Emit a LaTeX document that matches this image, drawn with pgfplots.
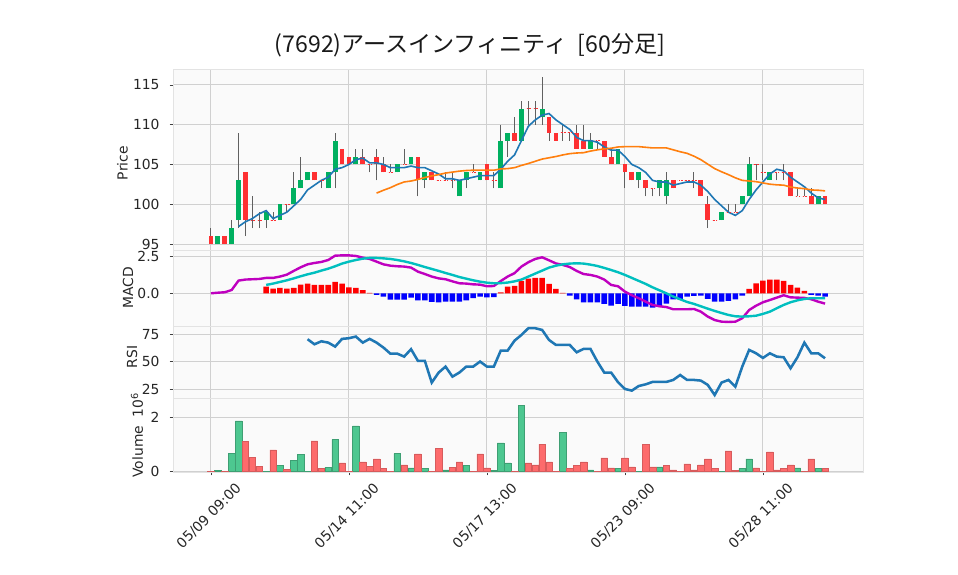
\documentclass[border=0pt]{standalone}
\usepackage{fontspec}
\setmainfont{DejaVu Sans}
\newfontfamily\cjk{Noto Sans CJK JP}
\usepackage{pgfplots}
\usepackage{pgfplotstable}
\pgfplotsset{compat=1.18}

\definecolor{bg}{HTML}{FAFAFA}
\definecolor{gridc}{HTML}{D0D0D0}
\definecolor{upc}{HTML}{00B060}
\definecolor{dnc}{HTML}{FE3032}
\definecolor{wickc}{HTML}{606060}
\definecolor{vup}{HTML}{4DC790}
\definecolor{vdn}{HTML}{FD6B6C}
\definecolor{ma5}{HTML}{1F77B4}
\definecolor{ma25}{HTML}{FF7F0E}
\definecolor{macdc}{HTML}{BF00BF}
\definecolor{sigc}{HTML}{00BFBF}

% candle wicks: k low high
\pgfplotstableread{
k L H
0 95 97
1 95 96
2 95 96
3 95 98
4 97 109
5 96 104
6 97 101
7 97 99
8 97 99
9 98 99
10 98 100
11 99 100
12 100 104
13 102 106
14 103 104
15 103 104
16 102 103
17 102 104
18 102 109
19 105 107
20 105 106
21 105 107
22 105 107
23 104 105
24 103 107
25 104 106
26 104 105
27 104 105
28 105 107
29 105 106
30 101 106
31 102 104
32 103 104
33 103 103
34 103 104
35 102 104
36 101 103
37 102 104
38 104 105
39 103 104
40 103 105
41 102 104
42 102 110
43 106 109
44 108 111
45 108 113
46 110 113
47 110 113
48 110 116
49 108 111
50 108 109
51 108 110
52 108 109
53 107 110
54 107 110
55 107 109
56 107 108
57 106 108
58 105 107
59 105 107
60 102 105
61 103 104
62 102 104
63 101 103
64 101 102
65 101 103
66 100 104
67 102 103
68 103 103
69 103 103
70 102 104
71 101 103
72 97 101
73 98 98
74 98 99
75 99 100
76 99 100
77 100 101
78 101 106
79 103 105
80 103 105
81 103 104
82 103 104
83 103 105
84 101 104
85 101 102
86 101 102
87 100 102
88 100 101
89 100 101
}\wickT

% rising candles: k open close
\pgfplotstableread{
k lo hi
1 95 96
3 95 97
4 98 103
8 98 99
10 98 100
12 100 102
13 102 103
14 103 104
17 102 104
18 104 108
21 105 106
27 104 105
29 105 106
31 103 104
36 101 103
37 103 104
39 103 104
42 102 108
43 108 109
45 108 112
48 111 112
55 107 108
59 105 107
62 103 104
65 102 103
66 101 103
74 98 99
77 100 101
78 101 105
81 103 104
88 100 101
}\upT

% falling candles: k close open
\pgfplotstableread{
k lo hi
0 95 96
2 95 96
5 98 104
15 103 104
19 105 107
20 105 106
22 105 106
24 105 106
25 104 105
30 103 106
32 103 104
40 103 105
44 108 109
49 109 111
50 108 109
53 107 109
54 107 108
57 106 108
58 105 106
60 104 105
61 103 104
63 102 103
67 102 103
71 101 103
72 98 100
84 101 104
87 100 101
89 100 101
}\dnT

% open = close
\pgfplotstableread{
k p
6 98
7 98
9 98
11 100
16 103
23 105
26 104
28 105
33 103
34 103
35 103
38 104
41 103
46 112
47 112
51 109
52 109
56 108
64 102
68 103
69 103
70 103
73 98
75 99
76 99
79 105
80 104
82 104
83 104
85 101
86 101
}\dojiT

\pgfplotstableread{
k v
4 97.2
5 97.8
6 98.2
7 98.8
8 99.2
9 98.2
10 98.6
11 99.0
12 99.8
13 100.6
14 101.8
15 102.4
16 103.0
17 103.4
18 104.4
19 104.6
20 105.0
21 105.6
22 105.8
23 105.2
24 105.2
25 105.0
26 104.6
27 104.6
28 104.6
29 104.8
30 104.6
31 104.6
32 104.2
33 103.8
34 103.2
35 103.2
36 103.0
37 103.2
38 103.4
39 103.6
40 103.6
41 103.6
42 104.4
43 105.4
44 106.2
45 108.0
46 109.8
47 110.6
48 111.2
49 111.4
50 110.6
51 110.0
52 109.4
53 108.4
54 108.0
55 108.0
56 107.8
57 107.2
58 106.8
59 106.8
60 106.0
61 105.0
62 104.6
63 104.0
64 103.0
65 102.8
66 102.8
67 102.4
68 102.6
69 102.8
70 102.8
71 102.4
72 101.6
73 100.6
74 99.8
75 99.0
76 98.6
77 99.2
78 100.6
79 101.8
80 102.8
81 103.8
82 104.4
83 104.2
84 103.4
85 102.8
86 102.2
87 101.4
88 100.8
89 100.6
}\maA

\pgfplotstableread{
k v
24 101.40
25 101.76
26 102.08
27 102.48
28 102.80
29 102.92
30 103.12
31 103.36
32 103.56
33 103.72
34 103.92
35 104.04
36 104.16
37 104.24
38 104.28
39 104.28
40 104.28
41 104.28
42 104.44
43 104.48
44 104.60
45 104.88
46 105.12
47 105.40
48 105.68
49 105.84
50 106.00
51 106.20
52 106.36
53 106.44
54 106.48
55 106.68
56 106.84
57 106.96
58 107.04
59 107.20
60 107.24
61 107.24
62 107.24
63 107.16
64 107.08
65 107.08
66 107.08
67 106.84
68 106.60
69 106.40
70 106.04
71 105.60
72 105.04
73 104.48
74 104.08
75 103.72
76 103.32
77 103.00
78 102.92
79 102.84
80 102.68
81 102.52
82 102.44
83 102.40
84 102.16
85 102.04
86 101.96
87 101.80
88 101.76
89 101.68
}\maB

\pgfplotstableread{
k m
0 0.00
1 0.04
2 0.07
3 0.22
4 0.85
5 0.92
6 0.94
7 0.96
8 1.03
9 1.03
10 1.12
11 1.25
12 1.50
13 1.74
14 1.94
15 2.03
16 2.10
17 2.23
18 2.52
19 2.54
20 2.54
21 2.50
22 2.39
23 2.30
24 2.12
25 1.94
26 1.85
27 1.81
28 1.79
29 1.72
30 1.45
31 1.29
32 1.12
33 1.00
34 0.94
35 0.80
36 0.67
37 0.65
38 0.60
39 0.58
40 0.47
41 0.49
42 0.82
43 1.12
44 1.35
45 1.79
46 2.08
47 2.30
48 2.41
49 2.21
50 2.00
51 1.90
52 1.76
53 1.50
54 1.29
55 1.23
56 1.12
57 0.92
58 0.56
59 0.47
60 0.11
61 -0.13
62 -0.33
63 -0.56
64 -0.78
65 -0.87
66 -0.92
67 -1.07
68 -1.07
69 -1.07
70 -1.05
71 -1.23
72 -1.56
73 -1.79
74 -1.90
75 -1.92
76 -1.90
77 -1.67
78 -1.12
79 -0.83
80 -0.60
81 -0.45
82 -0.29
83 -0.13
84 -0.27
85 -0.29
86 -0.31
87 -0.40
88 -0.56
89 -0.69
}\macdT

\pgfplotstableread{
k s h
8 0.56 0.45
9 0.65 0.31
10 0.76 0.36
11 0.87 0.31
12 1.00 0.36
13 1.14 0.58
14 1.27 0.65
15 1.38 0.56
16 1.52 0.56
17 1.65 0.56
18 1.81 0.76
19 1.99 0.65
20 2.12 0.40
21 2.23 0.36
22 2.32 0.22
23 2.37 0.02
24 2.37 -0.11
25 2.34 -0.22
26 2.30 -0.42
27 2.23 -0.42
28 2.14 -0.42
29 2.03 -0.29
30 1.90 -0.47
31 1.76 -0.47
32 1.63 -0.58
33 1.50 -0.60
34 1.36 -0.56
35 1.23 -0.56
36 1.09 -0.56
37 0.98 -0.47
38 0.87 -0.33
39 0.78 -0.22
40 0.71 -0.27
41 0.67 -0.25
42 0.68 0.07
43 0.72 0.45
44 0.80 0.50
45 0.92 0.83
46 1.12 0.98
47 1.32 1.03
48 1.52 1.03
49 1.72 0.63
50 1.85 0.29
51 1.94 0.02
52 1.99 -0.16
53 2.01 -0.40
54 1.99 -0.60
55 1.92 -0.60
56 1.83 -0.60
57 1.70 -0.71
58 1.56 -0.83
59 1.41 -0.71
60 1.23 -0.85
61 1.03 -0.89
62 0.83 -0.89
63 0.63 -0.89
64 0.40 -0.96
65 0.20 -0.85
66 0.00 -0.69
67 -0.22 -0.40
68 -0.40 -0.40
69 -0.58 -0.22
70 -0.71 -0.18
71 -0.87 -0.16
72 -1.03 -0.38
73 -1.18 -0.56
74 -1.32 -0.56
75 -1.45 -0.51
76 -1.54 -0.40
77 -1.56 -0.16
78 -1.54 0.29
79 -1.50 0.67
80 -1.38 0.85
81 -1.23 0.92
82 -1.00 0.92
83 -0.78 0.83
84 -0.60 0.56
85 -0.47 0.38
86 -0.38 0.16
87 -0.33 -0.11
88 -0.33 -0.16
89 -0.33 -0.22
}\sigT

\pgfplotstableread{
k r
14 70.5
15 65.9
16 68.6
17 67.4
18 63.8
19 70.8
20 71.4
21 72.9
22 67.4
23 70.8
24 67.4
25 62.9
26 57.4
27 57.4
28 54.7
29 61.4
30 50.8
31 50.8
32 31.1
33 40.2
34 45.6
35 36.5
36 40.2
37 45.6
38 45.6
39 50.2
40 45.6
41 45.6
42 60.2
43 60.2
44 69.2
45 74.4
46 80.5
47 80.5
48 78.9
49 69.8
50 65.3
51 65.3
52 65.3
53 58.6
54 61.7
55 61.7
56 50.2
57 40.2
58 40.2
59 31.4
60 25.3
61 23.8
62 28.0
63 29.5
64 31.7
65 31.7
66 31.7
67 33.5
68 38.0
69 33.5
70 33.5
71 32.9
72 29.0
73 19.8
74 31.1
75 33.5
76 27.4
77 45.6
78 60.8
79 57.7
80 53.5
81 57.7
82 54.7
83 54.1
84 44.1
85 54.1
86 67.4
87 57.7
88 57.7
89 53.2
}\rsiT

% volume (millions), rising bars
\pgfplotstableread{
k v
1 0.04
3 0.66
4 1.87
8 0.01
10 0.22
12 0.40
13 0.62
14 0.01
17 0.16
18 1.17
21 1.68
27 0.66
29 0.13
31 0.11
34 0.06
37 0.22
41 0.04
42 1.05
43 0.32
45 2.45
51 1.45
55 0.06
59 0.10
62 0.01
65 0.17
74 0.01
77 0.10
78 0.46
85 0.13
88 0.10
}\volUp

% volume (millions), falling bars
\pgfplotstableread{
k v
0 0.01
2 0.01
5 1.12
6 0.51
7 0.18
9 0.80
11 0.07
15 1.13
16 0.10
19 0.32
20 0.01
22 0.35
23 0.18
24 0.46
25 0.10
26 0.01
28 0.24
30 0.65
32 0.01
33 0.84
35 0.15
36 0.35
38 0.01
39 0.65
40 0.13
44 0.01
46 0.32
47 0.24
48 1.01
49 0.35
50 0.01
52 0.10
53 0.21
54 0.35
56 0.01
57 0.50
58 0.13
60 0.50
61 0.17
63 1.01
64 0.17
66 0.21
67 0.06
68 0.01
69 0.28
70 0.06
71 0.24
72 0.46
73 0.10
75 0.76
76 0.04
79 0.13
80 0.01
81 0.72
82 0.06
83 0.10
84 0.24
86 0.01
87 0.46
89 0.10
}\volDn

\pgfplotsset{
  panel/.style={
    scale only axis, width=517.5pt,
    xmin=-5.5, xmax=94.5,
    axis background/.style={fill=bg},
    axis line style={draw=gridc!60},
    grid=major, major grid style={draw=gridc, line width=0.7pt},
    xtick={0,20,40,60,80},
    tick align=outside, major tick length=2.6pt,
    tick style={draw=black!75, line width=0.6pt},
    ytick pos=left, xtick pos=bottom,
    tick label style={font=\fontsize{10.4}{12}\selectfont, text=black!85},
    label style={font=\fontsize{10.4}{12}\selectfont, text=black!85},
    yticklabel style={xshift=-4pt},
  },
  upper/.style={xticklabels={}, x tick style={draw=none}},
  candle/.style={draw=none, mark=none, forget plot,
    error bars/.cd, y dir=plus, y explicit, error mark=none,
    error bar style={draw=#1, solid, line width=3.6pt}},
}

\begin{document}
\begin{tikzpicture}
\path[use as bounding box] (0,0) rectangle (718.5pt,431.25pt);

\node[font=\cjk\fontsize{17.3}{20}\selectfont, text=black!90] at (352.5pt,397.5pt)
  {(7692)アースインフィニティ\ \ [60分足]};

% ---------- price ----------
\begin{axis}[panel, upper,
  at={(129.75pt,243.75pt)}, anchor=south west, height=135.75pt,
  ymin=94.25, ymax=117,
  ytick={95,100,105,110,115}, yticklabels={95,100,105,110,115},
  ylabel={Price},
  ylabel style={at={(axis description cs:-0.0732,0.48)}, anchor=center},
]
\addplot[draw=none, mark=none, forget plot,
  error bars/.cd, y dir=plus, y explicit, error mark=none,
  error bar style={draw=wickc, solid, line width=0.75pt}]
  table[x=k, y=L, y error expr=\thisrow{H}-\thisrow{L}] {\wickT};
\addplot[candle=upc]
  table[x=k, y=lo, y error expr=\thisrow{hi}-\thisrow{lo}] {\upT};
\addplot[candle=dnc]
  table[x=k, y=lo, y error expr=\thisrow{hi}-\thisrow{lo}] {\dnT};
\addplot[only marks, mark=-, mark size=2.0pt,
  mark options={draw=dnc, line width=0.8pt, dash pattern=on 1.2pt off 0.8pt}]
  table[x=k, y=p] {\dojiT};
\addplot[ma5, line width=1.2pt, no marks] table[x=k, y=v] {\maA};
\addplot[ma25, line width=1.2pt, no marks] table[x=k, y=v] {\maB};
\end{axis}

% ---------- MACD ----------
\begin{axis}[panel, upper,
  at={(129.75pt,186.75pt)}, anchor=south west, height=57pt,
  ymin=-2.19, ymax=2.9,
  ytick={0,2.5}, yticklabels={0.0,2.5},
  ylabel={MACD},
  ylabel style={at={(axis description cs:-0.0652,0.5)}, anchor=center},
]
\addplot[ybar, bar width=0.8, bar shift=0pt, fill=red, draw=none,
  restrict y to domain=0:10]
  table[x=k, y=h] {\sigT};
\addplot[ybar, bar width=0.8, bar shift=0pt, fill=blue, draw=none,
  restrict y to domain=-10:0]
  table[x=k, y=h] {\sigT};
\addplot[macdc, line width=1.8pt, no marks] table[x=k, y=m] {\macdT};
\addplot[sigc, line width=1.8pt, no marks] table[x=k, y=s] {\sigT};
\end{axis}

% ---------- RSI ----------
\begin{axis}[panel, upper,
  at={(129.75pt,132.75pt)}, anchor=south west, height=54pt,
  ymin=17.1, ymax=82.5,
  ytick={25,50,75}, yticklabels={25,50,75},
  ylabel={RSI},
  ylabel style={at={(axis description cs:-0.0594,0.57)}, anchor=center},
]
\addplot[ma5, line width=1.9pt, no marks] table[x=k, y=r] {\rsiT};
\end{axis}

% ---------- volume ----------
\begin{axis}[panel,
  at={(129.75pt,77.25pt)}, anchor=south west, height=55.5pt,
  ymin=-0.02, ymax=2.71,
  ytick={0,2}, yticklabels={0,2},
  xticklabels={05/09 09:00,05/14 11:00,05/17 13:00,05/23 09:00,05/28 11:00},
  xticklabel style={anchor=center, yshift=-30.5pt, xshift=-1.5pt, rotate=45},
  ylabel={Volume\ \ 10\textsuperscript{6}},
  ylabel style={at={(axis description cs:-0.0522,0.5)}, anchor=center},
]
\addplot[ybar, bar width=0.95, bar shift=0pt, fill=vup, draw=vup!80!black, line width=0.4pt]
  table[x=k, y=v] {\volUp};
\addplot[ybar, bar width=0.95, bar shift=0pt, fill=vdn, draw=vdn!85!black, line width=0.4pt]
  table[x=k, y=v] {\volDn};
\end{axis}
\end{tikzpicture}
\end{document}
